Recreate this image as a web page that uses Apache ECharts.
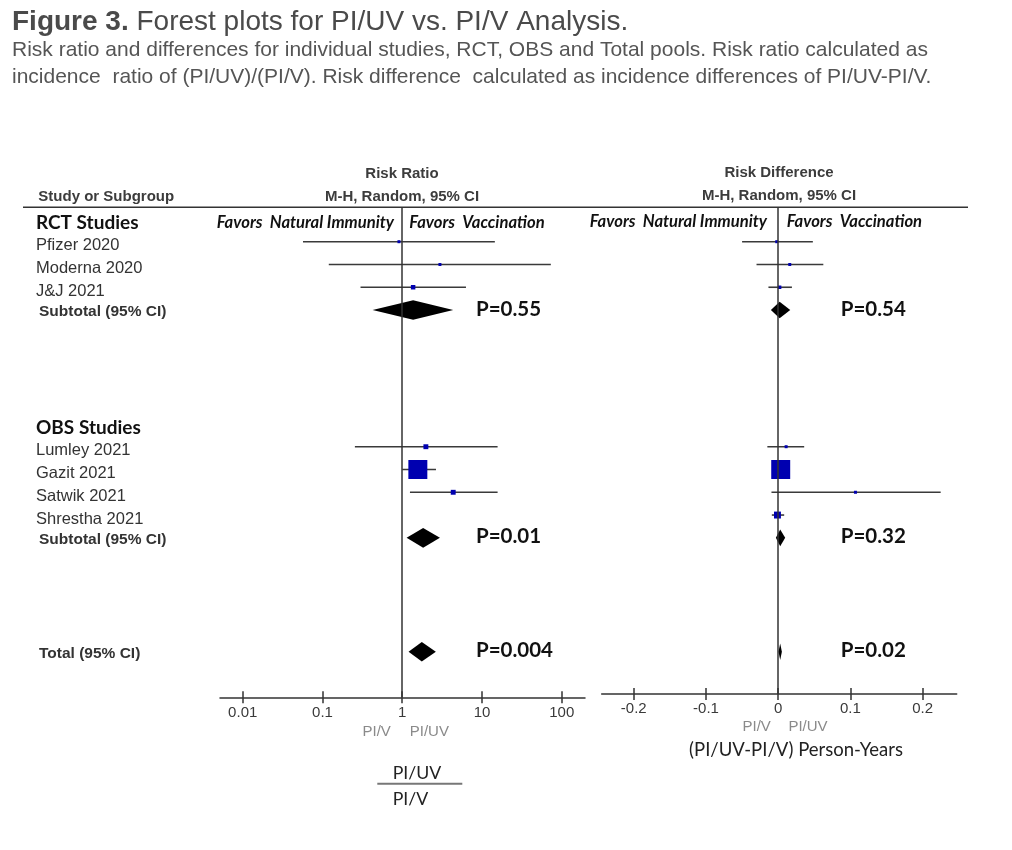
<!DOCTYPE html>
<html><head><meta charset="utf-8">
<script src="https://cdn.jsdelivr.net/npm/echarts@6/dist/echarts.min.js"></script>
<style>html,body{margin:0;padding:0;background:#fff}#c{width:1012px;height:850px}</style>
</head><body><div id="c"></div>
<script>
// ---- data ----
const rows = ['RCT Studies','Pfizer 2020','Moderna 2020','J&J 2021','Subtotal (95% CI)','','','','',
  'OBS Studies','Lumley 2021','Gazit 2021','Satwik 2021','Shrestha 2021','Subtotal (95% CI)','','','','',
  'Total (95% CI)'];
const studies = ['Pfizer 2020','Moderna 2020','J&J 2021','Lumley 2021','Gazit 2021','Satwik 2021','Shrestha 2021'];

// Risk ratio (PI/UV)/(PI/V)
const rrPoint  = [0.91, 2.97, 1.37, 1.98, 1.57, 4.36, null];
const rrLow    = [0.057, 0.12, 0.30, 0.255, 1.0, 1.25, null];
const rrHigh   = [14.5, 73, 6.3, 15.7, 2.65, 15.7, null];
const rrWeight = [1, 1, 5, 6, 90, 6, null];

// Risk difference PI/UV - PI/V
const rdPoint  = [-0.002, 0.016, 0.002, 0.011, 0.0035, 0.107, -0.001];
const rdLow    = [-0.050, -0.030, -0.0135, -0.015, -0.004, -0.0093, -0.0088];
const rdHigh   = [0.048, 0.0625, 0.019, 0.036, 0.011, 0.225, 0.0083];
const rdWeight = [1, 1, 3, 1, 90, 0.5, 12];

// pooled estimates: RCT subtotal, OBS subtotal, Total
const rrPooledPoint = [1.37, 1.83, 1.76];
const rrPooledLow   = [0.425, 1.135, 1.2];
const rrPooledHigh  = [4.36, 2.97, 2.64];
const rrP = [0.55, 0.01, 0.004];

const rdPooledPoint = [0.002, 0.0028, 0.0028];
const rdPooledLow   = [-0.0101, -0.0032, 0.0004];
const rdPooledHigh  = [0.0167, 0.0097, 0.0051];
const rdP = [0.54, 0.32, 0.02];

const rrTicks = [0.01, 0.1, 1, 10, 100];
const rdTicks = [-0.2, -0.1, 0, 0.1, 0.2];

// ---- build ----
const pooledRows = rows.map((r,i)=>/^(Sub)?[Tt]otal/.test(r)?i:-1).filter(i=>i>=0);
const labelRows = rows.map((r,i)=>r?i:-1).filter(i=>i>=0);

const SANS = 'Liberation Sans, Arial, sans-serif';
const CAL = 'Lato, Carlito, sans-serif';

function studySeries(xIdx, yIdx, point, low, high, weight) {
  const data = [];
  studies.forEach((s,i)=>{ if (point[i] != null) data.push([rows.indexOf(s), point[i], low[i], high[i], weight[i]]); });
  return {
    type:'custom', xAxisIndex:xIdx, yAxisIndex:yIdx, data, encode:{x:[1,2,3], y:0}, silent:true,
    renderItem:(params, api)=>{
      const y = api.value(0);
      const a = api.coord([api.value(2), y]);
      const b = api.coord([api.value(3), y]);
      const c = api.coord([api.value(1), y]);
      const s = Math.max(3, 2*Math.sqrt(api.value(4)));
      return {type:'group', children:[
        {type:'line', shape:{x1:a[0], y1:a[1], x2:b[0], y2:b[1]}, style:{stroke:'#3a3a3a', lineWidth:1.6}},
        {type:'rect', shape:{x:c[0]-s/2, y:c[1]-s/2, width:s, height:s}, style:{fill:'#0000b0'}}
      ]};
    },
    markLine:{silent:true, symbol:'none', animation:false, label:{show:false},
      lineStyle:{color:'#333', width:1.5, type:'solid'},
      data:[{xAxis: xIdx===0 ? 1 : 0}]}
  };
}

function pooledSeries(xIdx, yIdx, point, low, high, pv, h, pOffset) {
  const data = pooledRows.map((r,i)=>[r, point[i], low[i], high[i]]);
  return {
    type:'custom', xAxisIndex:xIdx, yAxisIndex:yIdx, data, encode:{x:[1,2,3], y:0}, silent:true,
    renderItem:(params, api)=>{
      const y = api.value(0);
      const a = api.coord([api.value(2), y]);
      const b = api.coord([api.value(3), y]);
      const c = api.coord([api.value(1), y]);
      return {type:'group', children:[
        {type:'polygon', shape:{points:[[a[0],c[1]],[c[0],c[1]-h],[b[0],c[1]],[c[0],c[1]+h]]}, style:{fill:'#000'}},
        {type:'text', x: params.coordSys.x + pOffset, y: c[1]-1,
          style:{text:'P=' + pv[params.dataIndex], fontFamily:CAL, fontWeight:'bold', fontSize:20.5, fill:'#111', align:'left', verticalAlign:'middle'}}
      ]};
    }
  };
}

function xAxes(gridIndex, type, min, max, ticks, margin) {
  const base = {gridIndex, type, min, max, position:'bottom', splitLine:{show:false}};
  return [
    Object.assign({}, base, {
      axisLine:{show:true, onZero:false, lineStyle:{color:'#333', width:1.5}},
      axisTick:{show:true, inside:false, length:6, lineStyle:{color:'#333', width:1.5}, customValues:ticks},
      axisLabel:{show:true, customValues:ticks, margin, color:'#3a3a3a', fontFamily:SANS, fontSize:15,
        formatter:(v)=>String(+v.toPrecision(6))}
    }),
    Object.assign({}, base, {
      axisLine:{show:false, onZero:false},
      axisTick:{show:true, inside:true, length:6, lineStyle:{color:'#333', width:1.5}, customValues:ticks},
      axisLabel:{show:false}
    })
  ];
}

const xs = [].concat(
  xAxes(0, 'log', 0.00519, 195.8, rrTicks, 8),
  xAxes(1, 'value', -0.2444, 0.2472, rdTicks, 7)
);

const option = {
  backgroundColor:'#fff',
  animation:false,
  grid:[
    {left:220, right:1012-585, top:207.3, bottom:850-697.3},
    {left:601.7, right:1012-956.7, top:207.3, bottom:850-694}
  ],
  xAxis: xs,
  yAxis:[
    {gridIndex:0, type:'value', inverse:true, min:-0.51, max:21.0,
      axisLine:{show:false}, axisTick:{show:false}, splitLine:{show:false},
      axisLabel:{show:true, customValues:labelRows, align:'left', margin:184,
        formatter:(v)=>{
          const name = rows[Math.round(v)];
          if (!name) return '';
          if (/Studies$/.test(name)) return '{h|' + name + '}';
          if (/^(Sub)?[Tt]otal/.test(name)) return '{s|' + name + '}';
          return '{n|' + name + '}';
        },
        rich:{
          h:{fontFamily:CAL, fontWeight:'bold', fontSize:19, color:'#111', padding:[8,0,0,0]},
          n:{fontFamily:SANS, fontSize:16.5, color:'#333', padding:[8,0,0,0]},
          s:{fontFamily:SANS, fontWeight:'bold', fontSize:15.5, color:'#333', padding:[3,0,0,3]}
        }
      }},
    {gridIndex:1, type:'value', inverse:true, min:-0.51, max:20.856, show:false}
  ],
  series:[
    studySeries(0, 0, rrPoint, rrLow, rrHigh, rrWeight),
    pooledSeries(0, 0, rrPooledPoint, rrPooledLow, rrPooledHigh, rrP, 9.8, 256),
    studySeries(2, 1, rdPoint, rdLow, rdHigh, rdWeight),
    pooledSeries(2, 1, rdPooledPoint, rdPooledLow, rdPooledHigh, rdP, 8.3, 239)
  ],
  graphic:[
    {type:'text', left:12, top:8, style:{text:'{b|Figure 3.} Forest plots for PI/UV vs. PI/V Analysis.',
      fontFamily:SANS, fontSize:28, fill:'#4a4a4a', rich:{b:{fontFamily:SANS, fontSize:28, fontWeight:'bold', fill:'#4a4a4a'}}}},
    {type:'text', x:12, y:50, style:{text:'Risk ratio and differences for individual studies, RCT, OBS and Total pools. Risk ratio calculated as',
      fontFamily:SANS, fontSize:21, fill:'#555', verticalAlign:'middle'}},
    {type:'text', x:12, y:77, style:{text:'incidence  ratio of (PI/UV)/(PI/V). Risk difference  calculated as incidence differences of PI/UV-PI/V.',
      fontFamily:SANS, fontSize:21, fill:'#555', verticalAlign:'middle'}},
    // header
    {type:'line', shape:{x1:23, y1:207.3, x2:968, y2:207.3}, style:{stroke:'#333', lineWidth:1.5}},
    {type:'text', x:38.3, y:196.7, style:{text:'Study or Subgroup', fontFamily:SANS, fontWeight:'bold', fontSize:15, fill:'#3c3c3c', verticalAlign:'middle'}},
    {type:'text', x:402, y:174, style:{text:'Risk Ratio', fontFamily:SANS, fontWeight:'bold', fontSize:15, fill:'#3c3c3c', align:'center', verticalAlign:'middle'}},
    {type:'text', x:402, y:196.5, style:{text:'M-H, Random, 95% CI', fontFamily:SANS, fontWeight:'bold', fontSize:15, fill:'#3c3c3c', align:'center', verticalAlign:'middle'}},
    {type:'text', x:779, y:173, style:{text:'Risk Difference', fontFamily:SANS, fontWeight:'bold', fontSize:15, fill:'#3c3c3c', align:'center', verticalAlign:'middle'}},
    {type:'text', x:779, y:195.5, style:{text:'M-H, Random, 95% CI', fontFamily:SANS, fontWeight:'bold', fontSize:15, fill:'#3c3c3c', align:'center', verticalAlign:'middle'}},
    {type:'text', x:394, y:223, style:{text:'Favors  Natural Immunity', fontFamily:CAL, fontWeight:'bold', fontStyle:'italic', fontSize:16.6, fill:'#111', align:'right', verticalAlign:'middle'}},
    {type:'text', x:409.3, y:223, style:{text:'Favors  Vaccination', fontFamily:CAL, fontWeight:'bold', fontStyle:'italic', fontSize:16.6, fill:'#111', align:'left', verticalAlign:'middle'}},
    {type:'text', x:767, y:221.7, style:{text:'Favors  Natural Immunity', fontFamily:CAL, fontWeight:'bold', fontStyle:'italic', fontSize:16.6, fill:'#111', align:'right', verticalAlign:'middle'}},
    {type:'text', x:786.7, y:221.7, style:{text:'Favors  Vaccination', fontFamily:CAL, fontWeight:'bold', fontStyle:'italic', fontSize:16.6, fill:'#111', align:'left', verticalAlign:'middle'}},
    // under-axis labels
    {type:'text', x:376.7, y:731.7, style:{text:'PI/V', fontFamily:SANS, fontSize:15, fill:'#8a8a8a', align:'center', verticalAlign:'middle'}},
    {type:'text', x:429.3, y:731.7, style:{text:'PI/UV', fontFamily:SANS, fontSize:15, fill:'#8a8a8a', align:'center', verticalAlign:'middle'}},
    {type:'text', x:756.7, y:726.5, style:{text:'PI/V', fontFamily:SANS, fontSize:15, fill:'#8a8a8a', align:'center', verticalAlign:'middle'}},
    {type:'text', x:808, y:726.5, style:{text:'PI/UV', fontFamily:SANS, fontSize:15, fill:'#8a8a8a', align:'center', verticalAlign:'middle'}},
    {type:'text', x:796, y:750, style:{text:'(PI/UV-PI/V) Person-Years', fontFamily:CAL, fontSize:18.5, fill:'#222', align:'center', verticalAlign:'middle'}},
    {type:'text', x:392.7, y:773, style:{text:'PI/UV', fontFamily:CAL, fontSize:17.7, fill:'#222', align:'left', verticalAlign:'middle'}},
    {type:'line', shape:{x1:377.3, y1:783.7, x2:462.3, y2:783.7}, style:{stroke:'#777', lineWidth:2}},
    {type:'text', x:392.7, y:799.5, style:{text:'PI/V', fontFamily:CAL, fontSize:17.7, fill:'#222', align:'left', verticalAlign:'middle'}}
  ]
};
const chart = echarts.init(document.getElementById('c'));
chart.setOption(option);
</script></body></html>
